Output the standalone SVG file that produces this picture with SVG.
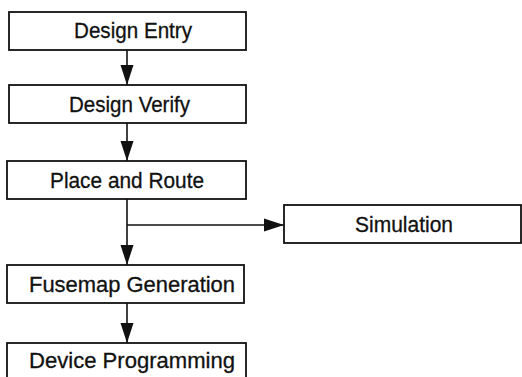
<svg xmlns="http://www.w3.org/2000/svg" width="522" height="377" viewBox="0 0 522 377">
<defs>
<style>
.box{fill:#fff;stroke:#111;stroke-width:1.8}
.lbl{font-family:"Liberation Sans",Arial,sans-serif;font-size:22px;fill:#111;text-anchor:middle;stroke:#111;stroke-width:0.3}
.ln{fill:none;stroke:#111;stroke-width:1.6}
</style>
<marker id="ah" markerUnits="userSpaceOnUse" markerWidth="20" markerHeight="14" refX="20" refY="7" orient="auto">
<path d="M0,0.5 L20,7 L0,13.5 Z" fill="#111"/>
</marker>
</defs>
<rect width="522" height="377" fill="#fff"/>
<g id="connectors">
<line class="ln" x1="127" y1="50" x2="127" y2="85" marker-end="url(#ah)"/>
<line class="ln" x1="127" y1="123" x2="127" y2="161" marker-end="url(#ah)"/>
<line class="ln" x1="127" y1="199" x2="127" y2="265" marker-end="url(#ah)"/>
<line class="ln" x1="127" y1="225" x2="284" y2="225" marker-end="url(#ah)"/>
<line class="ln" x1="127" y1="303" x2="127" y2="343" marker-end="url(#ah)"/>
</g>
<g id="design-entry">
<rect class="box" x="9" y="12" width="237" height="38"/>
<text class="lbl" x="133" y="38" textLength="118" lengthAdjust="spacingAndGlyphs">Design Entry</text>
</g>
<g id="design-verify">
<rect class="box" x="9" y="85" width="237" height="38"/>
<text class="lbl" x="129.5" y="112" textLength="121" lengthAdjust="spacingAndGlyphs">Design Verify</text>
</g>
<g id="place-route">
<rect class="box" x="7" y="161" width="239" height="38"/>
<text class="lbl" x="127" y="188" textLength="154" lengthAdjust="spacingAndGlyphs">Place and Route</text>
</g>
<g id="simulation">
<rect class="box" x="284" y="205" width="237" height="38"/>
<text class="lbl" x="404" y="232" textLength="98" lengthAdjust="spacingAndGlyphs">Simulation</text>
</g>
<g id="fusemap">
<rect class="box" x="7" y="265" width="237" height="38"/>
<text class="lbl" x="132" y="292" textLength="206" lengthAdjust="spacingAndGlyphs">Fusemap Generation</text>
</g>
<g id="device-programming">
<rect class="box" x="7" y="343" width="239" height="40"/>
<text class="lbl" x="132" y="368" textLength="206" lengthAdjust="spacingAndGlyphs">Device Programming</text>
</g>
</svg>
